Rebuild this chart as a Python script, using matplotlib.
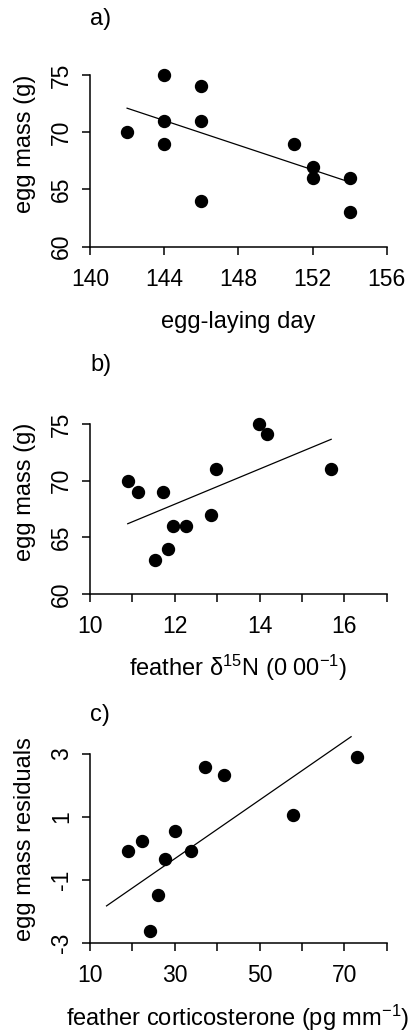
import numpy as np
import matplotlib
matplotlib.use("Agg")
import matplotlib.pyplot as plt

plt.rcParams["font.family"] = ["Liberation Sans", "DejaVu Sans"]
plt.rcParams["mathtext.fontset"] = "custom"
plt.rcParams["mathtext.rm"] = "Liberation Sans"
plt.rcParams["mathtext.it"] = "Liberation Sans:italic"
plt.rcParams["axes.unicode_minus"] = False

# a) egg-laying day vs egg mass
dia_puesta = [142, 144, 144, 144, 146, 146, 146, 151, 152, 152, 154, 154]
masa_a = [70, 75, 71, 69, 74, 71, 64, 69, 67, 66, 66, 63]
recta_a_x = [142, 153.9]
recta_a_y = [72.1, 65.7]

# b) feather d15N vs egg mass
d15n = [10.89, 11.13, 11.54, 11.73, 11.84, 11.97, 12.26, 12.86, 12.97, 13.98, 14.17, 15.69]
masa_b = [70, 69, 63, 69, 64, 66, 66, 67, 71, 75, 74.1, 71]
recta_b_x = [10.89, 15.69]
recta_b_y = [66.2, 73.65]

# c) feather corticosterone vs egg mass residuals
cort = [18.9, 22.3, 24.1, 26.0, 27.8, 30.1, 33.9, 37.2, 41.5, 57.8, 72.9]
resid = [-0.09, 0.23, -2.62, -1.49, -0.35, 0.54, -0.09, 2.58, 2.32, 1.05, 2.89]
recta_c_x = [13.9, 71.6]
recta_c_y = [-1.83, 3.55]

W, H = 417, 1032
fig = plt.figure(figsize=(W / 100, H / 100), dpi=100)

TICK_FS = 16.5
LAB_FS = 17


def caja(x0, x1, ytop, ybot):
    # convierte pixeles a fraccion de figura
    return [x0 / W, 1 - ybot / H, (x1 - x0) / W, (ybot - ytop) / H]


def panel(rect, x, y, lx, ly, xlim, ylim, xticks, xlabs, yticks, ylabs,
          letra, y_letra, xlab, y_xlab, ylab, y_ylab):
    ax = fig.add_axes(rect)
    ax.set_xlim(xlim)
    ax.set_ylim(ylim)
    ax.plot(x, y, "o", color="black", markersize=8.6, clip_on=False, zorder=3)
    ax.plot(lx, ly, color="black", linewidth=0.9, clip_on=False)
    for s in ["top", "right"]:
        ax.spines[s].set_visible(False)
    for s in ["left", "bottom"]:
        ax.spines[s].set_linewidth(1.1)
    ax.set_xticks(xticks)
    ax.set_xticklabels(xlabs, fontsize=TICK_FS)
    ax.set_yticks(yticks)
    ax.set_yticklabels(ylabs, fontsize=TICK_FS, rotation=90, va="center")
    ax.tick_params(axis="x", length=6, width=1.1, pad=9)
    ax.tick_params(axis="y", length=6, width=1.1, pad=6)
    fig.text(90 / W, 1 - y_letra / H, letra, fontsize=LAB_FS, ha="left", va="center")
    fig.text(238 / W, 1 - y_xlab / H, xlab, fontsize=LAB_FS, ha="center", va="center")
    fig.text(25 / W, 1 - y_ylab / H, ylab, fontsize=LAB_FS, ha="center", va="center",
             rotation=90)
    return ax


panel(caja(90, 386.7, 75, 246.7), dia_puesta, masa_a, recta_a_x, recta_a_y,
      (140, 156), (60, 75), [140, 144, 148, 152, 156],
      ["140", "144", "148", "152", "156"], [60, 65, 70, 75],
      ["60", "65", "70", "75"], "a)", 19, "egg-laying day", 322, "egg mass (g)", 144)

panel(caja(90, 386.7, 424, 594), d15n, masa_b, recta_b_x, recta_b_y,
      (10, 17), (60, 75), list(range(10, 18)),
      ["10", "", "12", "", "14", "", "16", ""], [60, 65, 70, 75],
      ["60", "65", "70", "75"], "b)", 365,
      "feather δ$^{15}$N (0 00$^{-1}$)", 668, "egg mass (g)", 492)

panel(caja(90, 386.7, 754, 942.7), cort, resid, recta_c_x, recta_c_y,
      (10, 80), (-3, 3), list(range(10, 81, 10)),
      ["10", "", "30", "", "50", "", "70", ""], [-3, -1, 1, 3],
      ["-3", "-1", "1", "3"], "c)", 715,
      "feather corticosterone (pg mm$^{-1}$)", 1018, "egg mass residuals", 839)

fig.savefig("out.png", dpi=100)
